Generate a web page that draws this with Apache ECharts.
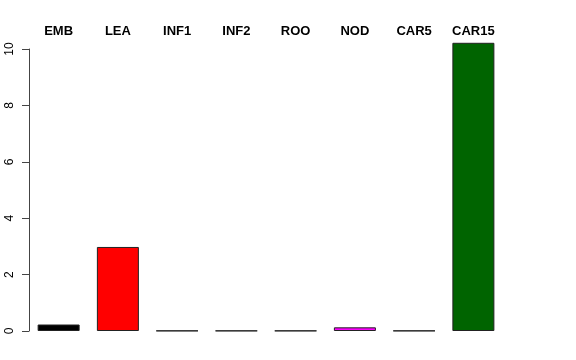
<!DOCTYPE html>
<html>
<head>
<meta charset="utf-8">
<script src="https://cdn.jsdelivr.net/npm/echarts@6/dist/echarts.min.js"></script>
<style>html,body{margin:0;padding:0;background:#fff}#c{width:576px;height:360px}</style>
</head>
<body>
<div id="c"></div>
<script>
var categories = ['EMB', 'LEA', 'INF1', 'INF2', 'ROO', 'NOD', 'CAR5', 'CAR15'];
var values = [0.23, 2.98, 0.01, 0.01, 0.01, 0.13, 0.01, 10.22];
var barColors = ['#000000', '#FF0000', '#00CD00', '#0000FF', '#8B4513', '#FF00FF', '#BEBEBE', '#006400'];
var yTicks = [0, 2, 4, 6, 8, 10];

var chart = echarts.init(document.getElementById('c'), null, {renderer: 'canvas'});
chart.setOption({
  animation: false,
  backgroundColor: '#fff',
  grid: {left: 29, right: 73, top: 49, bottom: 29, containLabel: false},
  xAxis: {
    type: 'category',
    data: categories,
    position: 'top',
    boundaryGap: true,
    axisLine: {show: false},
    axisTick: {show: false},
    axisLabel: {
      margin: 11,
      fontFamily: 'Liberation Sans',
      fontWeight: 'bold',
      fontSize: 13,
      color: '#000'
    }
  },
  yAxis: {
    type: 'value',
    min: yTicks[0],
    max: yTicks[yTicks.length - 1],
    interval: 2,
    splitLine: {show: false},
    axisLine: {show: true, lineStyle: {color: '#444', width: 1}},
    axisTick: {show: true, length: 7, lineStyle: {color: '#444'}},
    axisLabel: {
      rotate: 90,
      margin: 13,
      fontFamily: 'Liberation Sans',
      fontSize: 12,
      color: '#000'
    }
  },
  series: [{
    type: 'bar',
    clip: false,
    barWidth: 42,
    data: values.map(function (v, i) {
      return {value: v, itemStyle: {color: barColors[i]}};
    }),
    itemStyle: {borderColor: '#222', borderWidth: 1}
  }]
});
</script>
</body>
</html>
